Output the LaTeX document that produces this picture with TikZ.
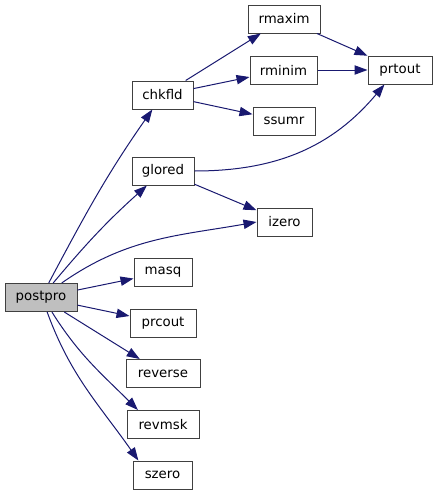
\documentclass[tikz,border=0pt]{standalone}
\usepackage{fontspec}
\setmainfont{DejaVu Sans}
\usetikzlibrary{arrows.meta}
\definecolor{edgecol}{HTML}{191970}
\definecolor{boxline}{HTML}{404040}
\definecolor{rootfill}{HTML}{BFBFBF}
\begin{document}
\begin{tikzpicture}[x=0.75pt,y=-0.75pt,
  fn/.style={draw=boxline,line width=0.75pt,fill=white,inner sep=0pt,minimum height=21pt,font=\fontsize{10}{12}\selectfont},
  root/.style={fn,fill=rootfill},
  call/.style={draw=edgecol,line width=0.75pt,-{Triangle[length=9.75pt,width=7pt]}}]
\useasboundingbox (0,0) rectangle (437,493);
\node[root,minimum width=54pt] (postpro) at (41,297.5) {postpro};
\node[fn,minimum width=45.75pt] (chkfld) at (162.5,95) {chkfld};
\node[fn,minimum width=46.5pt] (glored) at (163,171) {glored};
\node[fn,minimum width=43.5pt] (masq) at (163,272.5) {masq};
\node[fn,minimum width=49.5pt] (prcout) at (163,323) {prcout};
\node[fn,minimum width=55.5pt] (reverse) at (163,373.5) {reverse};
\node[fn,minimum width=54pt] (revmsk) at (163,424.5) {revmsk};
\node[fn,minimum width=44.25pt] (szero) at (162.5,475) {szero};
\node[fn,minimum width=54pt] (rmaxim) at (284,19) {rmaxim};
\node[fn,minimum width=50.25pt] (rminim) at (283.5,70) {rminim};
\node[fn,minimum width=46.5pt] (ssumr) at (284,121) {ssumr};
\node[fn,minimum width=41.25pt] (izero) at (284.5,222) {izero};
\node[fn,minimum width=48pt] (prtout) at (400,70) {prtout};
\draw[call] (postpro) to[out=62,in=235] (chkfld);
\draw[call] (postpro) to[out=50,in=222] (glored);
\draw[call] (postpro) to[out=35,in=190] (izero.west);
\draw[call] (postpro) -- (masq);
\draw[call] (postpro) -- (prcout);
\draw[call] (postpro) -- (reverse);
\draw[call] (postpro.-53) to[out=-58,in=135] (revmsk.150);
\draw[call] (postpro.-67) to[out=-70,in=125] (szero.149);
\draw[call] (chkfld) -- (rmaxim);
\draw[call] (chkfld) -- (rminim);
\draw[call] (chkfld) -- (ssumr);
\draw[call] (glored.east) to[out=0,in=230] (prtout.223);
\draw[call] (glored) -- (izero);
\draw[call] (rmaxim) -- (prtout);
\draw[call] (rminim) -- (prtout);
\end{tikzpicture}
\end{document}
